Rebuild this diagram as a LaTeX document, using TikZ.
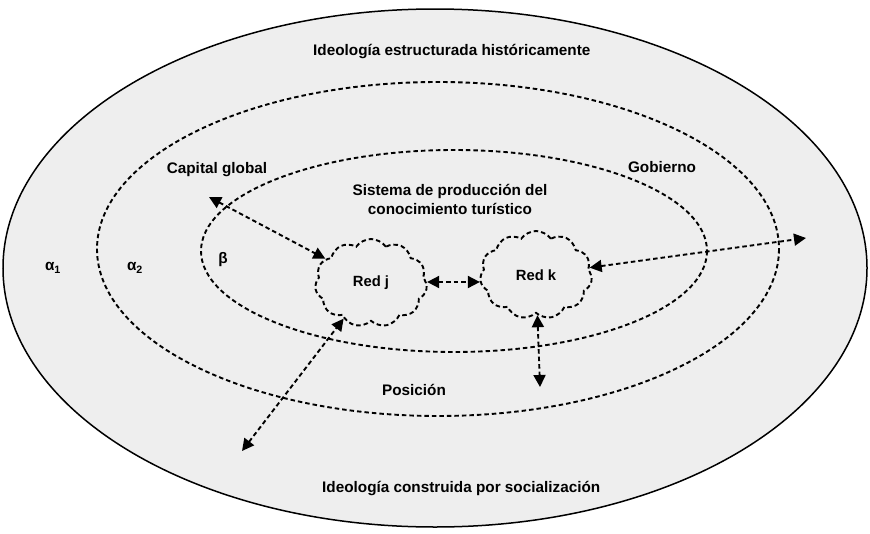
\documentclass[tikz,border=0pt]{standalone}
\usepackage{fontspec}
\setmainfont{Liberation Sans}
\usetikzlibrary{shapes.symbols,arrows.meta}
\begin{document}
\begin{tikzpicture}[x=1pt,y=-1pt,
  dashline/.style={line width=1.9pt,dash pattern=on 4.5pt off 3pt},
  lbl/.style={font=\fontsize{15.3}{18}\selectfont\bfseries,align=center,inner sep=0pt},
  biarrow/.style={dashline,{Triangle[length=12pt,width=12pt]}-{Triangle[length=12pt,width=12pt]}},
  redcloud/.style={cloud,draw,dashline,cloud puffs=11,cloud puff arc=110,minimum width=112pt,minimum height=88pt,inner sep=0pt,font=\fontsize{14.8}{17}\selectfont\bfseries}]
\useasboundingbox (0,0) rectangle (870,533);
\fill[white] (0,0) rectangle (870,533);
\draw[fill={rgb,255:red,238;green,238;blue,238},line width=1.5pt] (435,268) ellipse [x radius=432, y radius=259];
\draw[dashline] (438,249) ellipse [x radius=341, y radius=167];
\draw[dashline] (454,251) ellipse [x radius=253, y radius=101];

\node[lbl,anchor=west] (t1) at (313,52) {Ideología estructurada históricamente};
\node[lbl] (t2) at (217,170) {Capital global};
\node[lbl] (t3) at (662,167) {Gobierno};
\node[lbl] (t4) at (450,199) {Sistema de producción del\\[1pt]conocimiento turístico};
\node[lbl] (a1) at (53,268) {α\textsubscript{1}};
\node[lbl] (a2) at (135,268) {α\textsubscript{2}};
\node[lbl] (b) at (223,260) {β};
\node[lbl] (t5) at (414,390) {Posición};
\node[lbl,anchor=west] (t6) at (322,489) {Ideología construida por socialización};

\node[redcloud] (j) at (371,283) {Red j};
\node[redcloud] (k) at (536,275) {Red k};

\coordinate (p1) at (209,197);
\coordinate (p3) at (806,238);
\coordinate (p4) at (242,451);
\coordinate (p5) at (540,387);

\draw[biarrow] (p1) -- (j);
\draw[biarrow] (j.east |- 0,282) -- (k.west |- 0,282);
\draw[biarrow] (k) -- (p3);
\draw[biarrow] (p4) -- (j);
\draw[biarrow] (k) -- (p5);
\end{tikzpicture}
\end{document}
